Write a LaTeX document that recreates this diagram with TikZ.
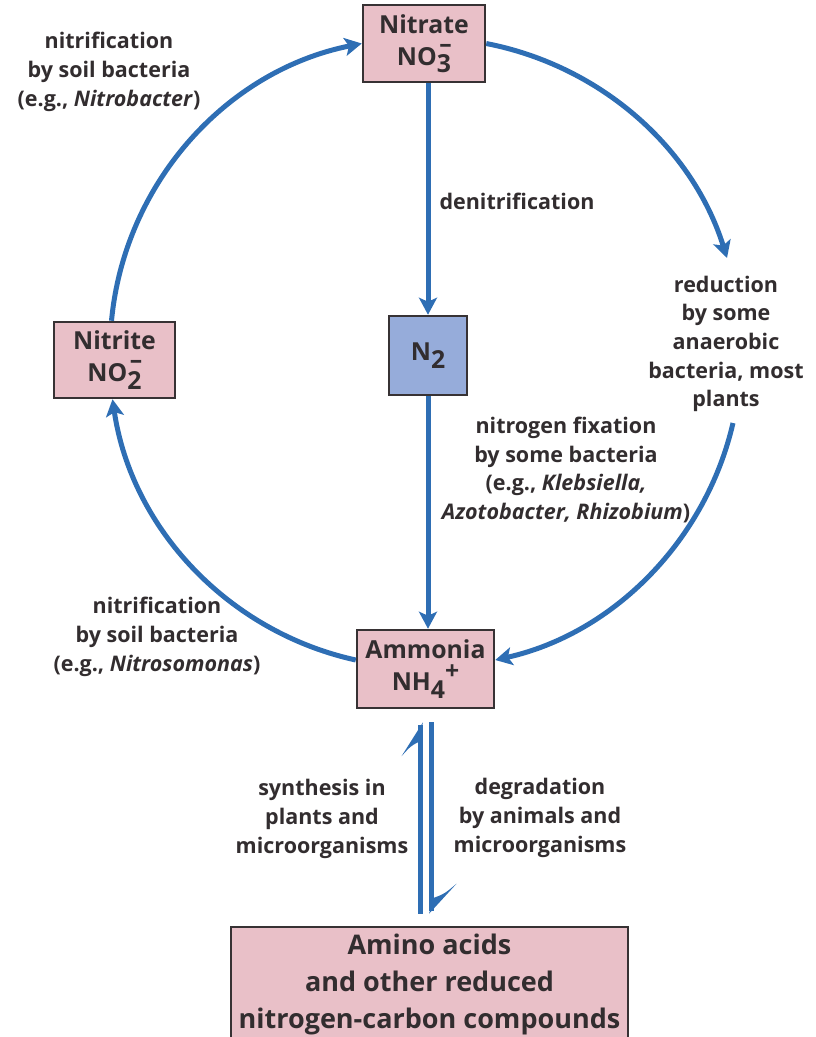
\documentclass[tikz,border=0pt]{standalone}
\usepackage{fontspec}
\setmainfont{Open Sans}
\usetikzlibrary{arrows.meta}
\definecolor{arrowblue}{RGB}{46,110,180}
\definecolor{boxpink}{RGB}{233,192,200}
\definecolor{boxblue}{RGB}{150,172,218}
\definecolor{ink}{RGB}{50,45,47}
\definecolor{edgegray}{RGB}{55,50,52}
\newcommand{\lblsize}{\fontsize{21.5}{28.7}\selectfont}
\newcommand{\boxsize}{\fontsize{24.8}{32}\selectfont}
\newcommand{\bigsize}{\fontsize{27}{37}\selectfont}
\newcommand{\ionss}[2]{\raisebox{0.52em}{\makebox[0pt][l]{\hspace{0.1em}#2}}\raisebox{-0.3em}{#1}}
\tikzset{
  x=1pt, y=1pt,
  chembox/.style={draw=edgegray, line width=2.5pt, fill=boxpink, inner sep=0pt,
    align=center, text=ink, font=\boxsize\bfseries},
  lbl/.style={align=center, text=ink, font=\lblsize\bfseries, inner sep=0pt},
  cyc/.style={draw=arrowblue, line width=5pt, -{Stealth[length=17pt,width=18pt,inset=4pt]}},
  blueline/.style={draw=arrowblue, line width=5pt},
  barb/.style={fill=arrowblue, draw=none}
}
\begin{document}
\begin{tikzpicture}
\useasboundingbox (0,0) rectangle (815,-1037);
% boxes
\node[chembox, minimum width=122pt, minimum height=77pt] (nitrate) at (424,-43.5) {Nitrate\\NO\ionss{3}{–}};
\node[chembox, minimum width=121pt, minimum height=76pt] (nitrite) at (114.5,-360) {Nitrite\\NO\ionss{2}{–}};
\node[chembox, fill=boxblue, minimum width=78pt, minimum height=79pt] (n2) at (428,-355.5) {N\raisebox{-0.3em}{2}};
\node[chembox, minimum width=137pt, minimum height=78pt] (ammonia) at (425.5,-669) {Ammonia\\NH\raisebox{-0.3em}{4}\raisebox{0.45em}{+}};
\node[chembox, font=\bigsize\bfseries, minimum width=397pt, minimum height=114pt] (amino) at (429.5,-984) {Amino acids\\and other reduced\\nitrogen-carbon compounds};
% coordinates
\coordinate (rtip) at (727,-258);
\coordinate (rstart) at (733,-423);
\coordinate (hlt) at ([xshift=-5pt,yshift=-13pt]ammonia.south);
\coordinate (hrt) at ([xshift=6pt,yshift=-13pt]ammonia.south);
\coordinate (hlb) at ([yshift=12pt]hlt |- amino.north);
\coordinate (hrb) at ([yshift=12pt]hrt |- amino.north);
% cycle arrows
\draw[cyc] ([xshift=-3pt]nitrite.north) to[out=84.6,in=191.3,looseness=0.945] (nitrate.west);
\draw[cyc] (nitrate.east) to[out=-11,in=107.3,looseness=0.918] (rtip);
\draw[cyc] (rstart) to[out=-103,in=12.6,looseness=0.923] ([yshift=9pt]ammonia.east);
\draw[cyc] ([yshift=9pt]ammonia.west) to[out=167.6,in=278.4,looseness=0.934] ([xshift=-2pt]nitrite.south);
% vertical arrows
\draw[cyc] (nitrate.south -| n2.north) -- (n2.north);
\draw[cyc] (n2.south) -- (n2.south |- ammonia.north);
% harpoons
\draw[blueline] (hlb) -- ([yshift=-3pt]hlt);
\fill[barb] ([xshift=2.5pt]hlt) -- ([shift={(-19,-34)}]hlt) .. controls ([shift={(-10,-24)}]hlt) .. ([shift={(-2.5,-20)}]hlt) -- cycle;
\draw[blueline] ([yshift=3pt]hrb) -- (hrt);
\fill[barb] ([xshift=-2.5pt]hrb) -- ([shift={(25,30)}]hrb) .. controls ([shift={(13,20)}]hrb) .. ([shift={(2.5,16)}]hrb) -- cycle;
% labels
\node[lbl] (l1) at (109,-72) {nitrification\\by soil bacteria\\(e.g., \textit{Nitrobacter})};
\node[lbl] (l2) at (517,-201) {denitrification};
\node[lbl] (l3) at (726,-344) {reduction\\by some\\anaerobic\\bacteria, most\\plants};
\node[lbl] (l4) at (566,-470) {nitrogen fixation\\by some bacteria\\(e.g., \textit{Klebsiella,}\\\textit{Azotobacter, Rhizobium})};
\node[lbl] (l5) at (157,-637) {nitrification\\by soil bacteria\\(e.g., \textit{Nitrosomonas})};
\node[lbl] (l6) at (322,-819) {synthesis in\\plants and\\microorganisms};
\node[lbl] (l7) at (540,-818) {degradation\\by animals and\\microorganisms};
\end{tikzpicture}
\end{document}
